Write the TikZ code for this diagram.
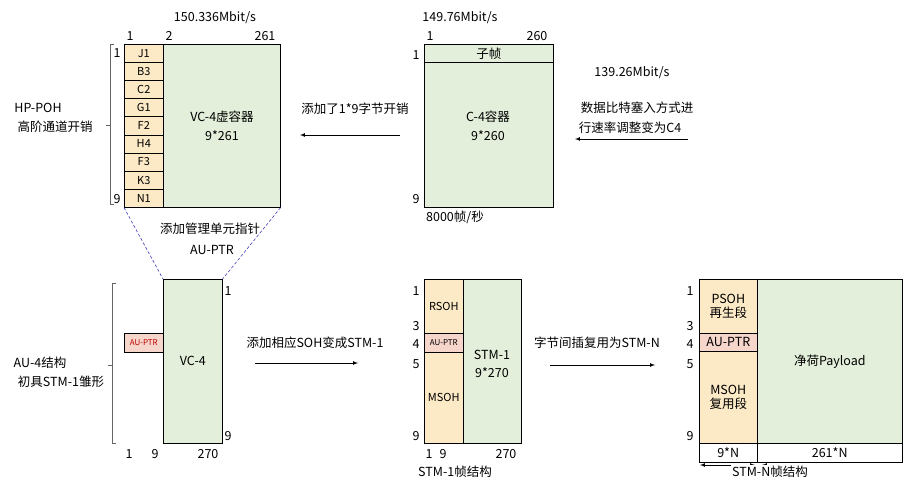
\documentclass[tikz,border=0pt]{standalone}
\usepackage{fontspec}
\setmainfont{Noto Sans CJK SC}
\begin{document}
\begin{tikzpicture}[x=1pt,y=-1pt,
  every node/.style={font=\fontsize{12.5}{14}\selectfont, inner sep=1pt},
  sm/.style={font=\fontsize{11}{12}\selectfont},
  yel/.style={fill=yellow!20!orange!20, draw=black, line width=0.6pt},
  grn/.style={fill=green!40!black!10, draw=black, line width=0.6pt},
  pnk/.style={fill=red!15, draw=black, line width=0.6pt},
  arr/.style={-latex, line width=0.7pt},
  brk/.style={draw=gray!80!black, line width=0.8pt},
  dsh/.style={densely dashed, draw=blue!50!gray, line width=0.6pt}]
\useasboundingbox (0,0) rectangle (909,482);
\definecolor{yl}{HTML}{FCE9C6}
\definecolor{gr}{HTML}{E3EFDA}
\definecolor{pk}{HTML}{F6D5CB}
\tikzset{yel/.append style={fill=yl}, grn/.append style={fill=gr}, pnk/.append style={fill=pk}}
% ---- top left VC-4
\node[grn, minimum width=117, minimum height=163, anchor=north west] (vc4) at (163,44) {};
\node at (222,117) {VC-4虚容器};
\node at (222,136) {9*261};
\foreach \t [count=\i] in {J1,B3,C2,G1,F2,H4,F3,K3,N1}{
  \node[yel, minimum width=39, minimum height=18.1, anchor=north west, sm] (p\i) at (124,{44+(\i-1)*18.1}) {\t};
}
\node at (117,53) {1}; \node at (117,199) {9};
\node at (130,36) {1}; \node at (169,36) {2}; \node at (265,36) {261};
\node at (215,18) {150.336Mbit/s};
\draw[brk] (114,44) -- (110,44) -- (110,204) -- (114,204);
\draw[brk] (110,125) -- (106,125);
\node at (38,108) {HP-POH};
\node at (55,127) {高阶通道开销};
% ---- C-4
\node[grn, minimum width=129, minimum height=163, anchor=north west] (c4) at (424,44) {};
\node[grn, minimum width=129, minimum height=18, anchor=north west] (sub) at (424,44) {子帧};
\node at (488,117) {C-4容器};
\node at (488,136) {9*260};
\node at (416,55) {1}; \node at (416,199) {9};
\node at (430,36) {1}; \node at (537,36) {260};
\node at (460,18) {149.76Mbit/s};
\node at (455,217) {8000帧/秒};
\node at (632,73) {139.26Mbit/s};
\node at (637,108) {数据比特塞入方式进};
\node at (630,128) {行速率调整变为C4};
\coordinate (a1s) at (688,139); \coordinate (a1e) at (575,139);
\draw[arr] (a1s) -- (a1e);
\coordinate (a2s) at (400,135); \coordinate (a2e) at (300,135);
\draw[arr] (a2s) -- (a2e);
\node at (355,109) {添加了1*9字节开销};
% ---- bottom VC-4
\node[grn, minimum width=59, minimum height=164, anchor=north west] (bvc) at (163,279) {VC-4};
\node[pnk, minimum width=39, minimum height=19, anchor=north west, text=red!75!black, font=\fontsize{8}{9}\selectfont] (bptr) at (124,333) {AU-PTR};
\draw[dsh] (p9.south west) -- (bvc.north west);
\draw[dsh] (vc4.south east) -- (bvc.north east);
\node at (210,229) {添加管理单元指针};
\node at (212,250) {AU-PTR};
\node at (228,291) {1}; \node at (228,436) {9};
\node at (129,454) {1}; \node at (155,454) {9}; \node at (208,454) {270};
\draw[brk] (116,283) -- (112,283) -- (112,443) -- (116,443);
\draw[brk] (112,365) -- (108,365);
\node at (40,363) {AU-4结构};
\node at (61,382) {初具STM-1雏形};
\coordinate (a3s) at (255,363); \coordinate (a3e) at (358,363);
\draw[arr] (a3s) -- (a3e);
\node at (315,343) {添加相应SOH变成STM-1};
% ---- STM-1
\node[grn, minimum width=58, minimum height=164, anchor=north west] (stm1) at (463,279) {};
\node at (492,355) {STM-1}; \node at (492,373) {9*270};
\node[yel, minimum width=39, minimum height=54, anchor=north west, sm] (rsoh) at (424,279) {RSOH};
\node[pnk, minimum width=39, minimum height=19, anchor=north west, font=\fontsize{8}{9}\selectfont] (sptr) at (424,333) {AU-PTR};
\node[yel, minimum width=39, minimum height=91, anchor=north west, sm] (msoh) at (424,352) {MSOH};
\foreach \n/\y in {1/291,3/326,4/344,5/364,9/436}{\node at (416,\y) {\n};}
\node at (429,454) {1}; \node at (443,454) {9}; \node at (506,454) {270};
\node at (455,472) {STM-1帧结构};
\coordinate (a4s) at (550,365); \coordinate (a4e) at (655,365);
\draw[arr] (a4s) -- (a4e);
\node at (597,343) {字节间插复用为STM-N};
% ---- STM-N
\node[grn, minimum width=145, minimum height=164, anchor=north west] (pay) at (757,279) {净荷Payload};
\node[yel, minimum width=58, minimum height=54, anchor=north west, align=center] (psoh) at (699,279) {PSOH\\再生段};
\node[pnk, minimum width=58, minimum height=18, anchor=north west] (nptr) at (699,333) {AU-PTR};
\node[yel, minimum width=58, minimum height=92, anchor=north west, align=center] (nmsoh) at (699,351) {MSOH\\复用段};
\foreach \n/\y in {1/291,3/326,4/344,5/364,9/436}{\node at (690,\y) {\n};}
\node[draw, minimum width=58, minimum height=19, anchor=north west] (c9n) at (699,443) {9*N};
\node[draw, minimum width=145, minimum height=19, anchor=north west] (c261) at (757,443) {261*N};
\coordinate (b1) at (700,465); \coordinate (b2) at (755,465);
\coordinate (b3) at (762,465); \coordinate (b4) at (790,465);
\draw[latex-latex, line width=0.7pt] (b1) -- (b2);
\draw[-latex, line width=0.7pt] (b4) -- (b3);
\node[fill=white] at (770,472) {STM-N帧结构};
\end{tikzpicture}
\end{document}
